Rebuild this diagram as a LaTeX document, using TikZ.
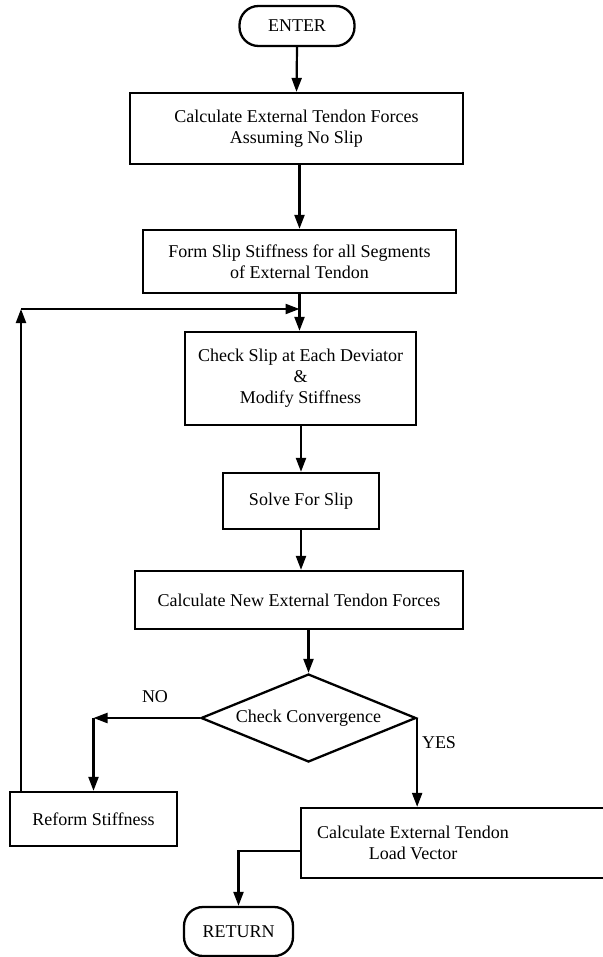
\documentclass[tikz,border=0pt]{standalone}
\usepackage{fontspec}
\setmainfont{Liberation Serif}
\usepackage{tikz}
\usetikzlibrary{positioning,arrows.meta,shapes.geometric}

\begin{document}
\begin{tikzpicture}[x=1pt,y=-1pt,font=\fontsize{18}{21}\selectfont,
    procbox/.style={draw,line width=2.3pt,rectangle,align=center,inner sep=0pt},
    termbox/.style={draw,line width=2.3pt,rectangle,rounded corners=19pt,inner sep=0pt},
    decbox/.style={draw,line width=2.3pt,diamond,aspect=2.44,inner sep=0pt,minimum width=215,minimum height=88},
    flowarrow/.style={line width=2.2pt,-{Triangle[length=14pt,width=10pt]}}]
    \useasboundingbox (0,0) rectangle (602,957);
    % boxes of the main column
    \node[termbox,minimum width=115,minimum height=40] (enter) at (297,26){ENTER};
    \node[procbox,minimum width=333,minimum height=71] (nosliptf) at (296.5,128.5){Calculate External Tendon Forces\\Assuming No Slip};
    \node[procbox,minimum width=313,minimum height=63] (slipstiff) at (299.5,261.5){Form Slip Stiffness for all Segments\\of External Tendon};
    \node[procbox,minimum width=231,minimum height=93] (checkslip) at (300.5,378.5){Check Slip at Each Deviator\\\&\\Modify Stiffness};
    \node[procbox,minimum width=156,minimum height=56] (solveslip) at (301,501){Solve For Slip};
    \node[procbox,minimum width=328,minimum height=58] (newtf) at (299,600){Calculate New External Tendon Forces};
    \node[decbox] (conv) at (308.5,718){Check Convergence};
    \node[procbox,minimum width=167,minimum height=54] (reform) at (93.5,819){Reform Stiffness};
    \node[procbox,minimum width=315,minimum height=70] (loadvec) at (458.5,843){};
    \node[align=center,inner sep=0pt] (loadtxt) at (413,843){Calculate External Tendon\\Load Vector};
    \node[termbox,minimum width=109,minimum height=49] (return) at (238.5,931.5){RETURN};
    \node (nolbl) at (155,697){NO}; \node (yeslbl) at (439,743){YES};
    \coordinate (loopup) at (21,309);
    % connectors
    \draw[flowarrow](enter.south)--(nosliptf.north);
    \draw[flowarrow](slipstiff.north |- nosliptf.south)--(slipstiff.north);
    \draw[flowarrow](slipstiff.south)--(slipstiff.south |- checkslip.north);
    \draw[flowarrow](checkslip.south -| solveslip.north)--(solveslip.north);
    \draw[flowarrow](solveslip.south)--(solveslip.south |- newtf.north);
    \draw[flowarrow](conv.north |- newtf.south)--(conv.north);
    \draw[flowarrow](conv.west)--(reform.north |- conv.west);
    \draw[flowarrow](reform.north |- conv.west)--(reform.north);
    \draw[flowarrow](conv.east)--(conv.east |- loadvec.north);
    \draw[flowarrow]([yshift=-8pt]loadvec.west)-|(return.north);
    \draw[flowarrow](reform.north -| loopup)--(loopup);
    \draw[flowarrow](loopup)--(slipstiff.south |- loopup);
  \end{tikzpicture}
\end{document}
